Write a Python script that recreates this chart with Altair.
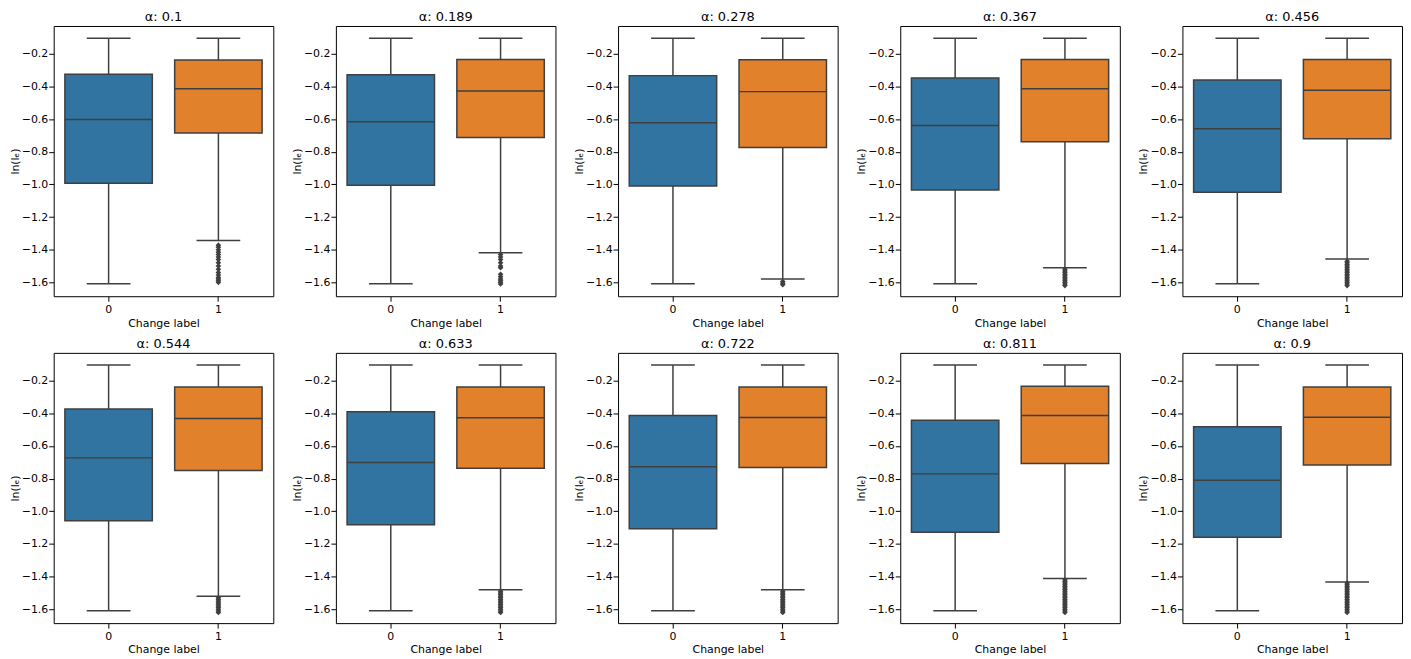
import altair as alt
import pandas as pd

alphas = ["0.1", "0.189", "0.278", "0.367", "0.456", "0.544", "0.633", "0.722", "0.811", "0.9"]
change_labels = ["0", "1"]

# label 0 box statistics
q3_0 = [-0.326, -0.328, -0.334, -0.349, -0.361, -0.373, -0.390, -0.414, -0.442, -0.482]
med_0 = [-0.603, -0.617, -0.623, -0.639, -0.660, -0.673, -0.701, -0.728, -0.771, -0.810]
q1_0 = [-0.993, -1.006, -1.010, -1.034, -1.048, -1.058, -1.082, -1.107, -1.129, -1.159]
whi_hi_0 = [-0.105, -0.105, -0.105, -0.105, -0.105, -0.105, -0.105, -0.105, -0.105, -0.105]
whi_lo_0 = [-1.609, -1.609, -1.609, -1.609, -1.609, -1.609, -1.609, -1.609, -1.609, -1.609]

# label 1 box statistics
q3_1 = [-0.238, -0.235, -0.237, -0.235, -0.235, -0.239, -0.239, -0.239, -0.235, -0.239]
med_1 = [-0.414, -0.428, -0.432, -0.414, -0.424, -0.432, -0.428, -0.426, -0.414, -0.424]
q1_1 = [-0.686, -0.713, -0.774, -0.739, -0.721, -0.751, -0.736, -0.732, -0.708, -0.716]
whi_hi_1 = [-0.105, -0.105, -0.105, -0.105, -0.105, -0.105, -0.105, -0.105, -0.105, -0.105]
whi_lo_1 = [-1.343, -1.418, -1.579, -1.510, -1.457, -1.521, -1.480, -1.480, -1.411, -1.433]

# outliers of label 1
outliers_1 = [
    [-1.372, -1.385, -1.40, -1.415, -1.43, -1.445, -1.46, -1.48, -1.50, -1.52, -1.54, -1.555, -1.57, -1.58, -1.59, -1.60],
    [-1.43, -1.445, -1.46, -1.48, -1.50, -1.51, -1.55, -1.565, -1.58, -1.59, -1.60, -1.61],
    [-1.595, -1.605, -1.615],
    [-1.52, -1.53, -1.54, -1.55, -1.56, -1.57, -1.58, -1.59, -1.60, -1.61, -1.62],
    [-1.47, -1.48, -1.49, -1.50, -1.51, -1.52, -1.53, -1.54, -1.55, -1.56, -1.57, -1.58, -1.59, -1.60, -1.61, -1.62],
    [-1.53, -1.54, -1.55, -1.56, -1.57, -1.58, -1.59, -1.60, -1.61, -1.62],
    [-1.49, -1.50, -1.51, -1.52, -1.53, -1.54, -1.55, -1.56, -1.57, -1.58, -1.59, -1.60, -1.61, -1.62],
    [-1.49, -1.50, -1.51, -1.52, -1.53, -1.54, -1.55, -1.56, -1.57, -1.58, -1.59, -1.60, -1.61, -1.62],
    [-1.42, -1.43, -1.44, -1.45, -1.46, -1.47, -1.48, -1.49, -1.50, -1.51, -1.52, -1.53, -1.54, -1.55, -1.56, -1.57, -1.58, -1.59, -1.60, -1.61, -1.62],
    [-1.44, -1.45, -1.46, -1.47, -1.48, -1.49, -1.50, -1.51, -1.52, -1.53, -1.54, -1.55, -1.56, -1.57, -1.58, -1.59, -1.60, -1.61, -1.62],
]

y_ticks = [-1.6, -1.4, -1.2, -1.0, -0.8, -0.6, -0.4, -0.2]

EDGE = "#3f3f3f"
COLORS = ["#3274a1", "#e1812c"]
W, H = 221, 272
BOX = 88
CAP = 44


def panel(i):
    stats = pd.DataFrame({
        "label": change_labels,
        "q1": [q1_0[i], q1_1[i]],
        "med": [med_0[i], med_1[i]],
        "q3": [q3_0[i], q3_1[i]],
        "lo": [whi_lo_0[i], whi_lo_1[i]],
        "hi": [whi_hi_0[i], whi_hi_1[i]],
    })
    fl = pd.DataFrame({"label": ["1"] * len(outliers_1[i]), "v": outliers_1[i]})

    x = alt.X("label:N",
              scale=alt.Scale(domain=change_labels, paddingInner=0, paddingOuter=0),
              axis=alt.Axis(title="Change label", labelAngle=0, labelPadding=2, titlePadding=3))
    yscale = alt.Scale(domain=[-1.685, -0.03], nice=False, zero=False)
    yaxis = alt.Axis(title="ln(lₑ)", values=y_ticks, titlePadding=1, labelPadding=1,
                     labelExpr="replace(format(datum.value, '.1f'), '-', '\u2212')")

    base = alt.Chart(stats)
    whisk = base.mark_rule(color=EDGE, strokeWidth=1.5).encode(
        x=x, y=alt.Y("lo:Q", scale=yscale, axis=yaxis), y2="hi:Q")
    box = base.mark_bar(size=BOX, stroke=EDGE, strokeWidth=1.5).encode(
        x=x, y=alt.Y("q1:Q", scale=yscale, axis=yaxis), y2="q3:Q",
        color=alt.Color("label:N", scale=alt.Scale(domain=change_labels, range=COLORS), legend=None))
    med = base.mark_tick(size=BOX, thickness=1.5, color=EDGE, opacity=1).encode(
        x=x, y=alt.Y("med:Q", scale=yscale, axis=yaxis))
    cap_lo = base.mark_tick(size=CAP, thickness=1.5, color=EDGE, opacity=1).encode(
        x=x, y=alt.Y("lo:Q", scale=yscale, axis=yaxis))
    cap_hi = base.mark_tick(size=CAP, thickness=1.5, color=EDGE, opacity=1).encode(
        x=x, y=alt.Y("hi:Q", scale=yscale, axis=yaxis))
    fliers = alt.Chart(fl).mark_point(shape="diamond", filled=True, size=32, color=EDGE, opacity=1).encode(
        x=x, y=alt.Y("v:Q", scale=yscale, axis=yaxis))

    return alt.layer(whisk, box, med, cap_lo, cap_hi, fliers).properties(
        width=W, height=H, title=alt.TitleParams(f"α: {alphas[i]}", dy=-7))


row1 = alt.hconcat(*[panel(i) for i in range(5)], spacing=16)
row2 = alt.hconcat(*[panel(i) for i in range(5, 10)], spacing=16)
chart = alt.vconcat(row1, row2, spacing=8).properties(padding=0).configure_view(
    stroke="#000000", strokeWidth=1
).configure_axis(
    grid=False, domain=False,
    labelFont="DejaVu Sans", titleFont="DejaVu Sans",
    labelFontSize=11, titleFontSize=11, titleFontWeight="normal",
    labelColor="#000000", titleColor="#000000", tickColor="#000000",
).configure_title(
    font="DejaVu Sans", fontSize=13, fontWeight="normal", anchor="middle", offset=-5, color="#000000"
)

chart.save("out.html", embed_options={"renderer": "svg", "actions": False})
